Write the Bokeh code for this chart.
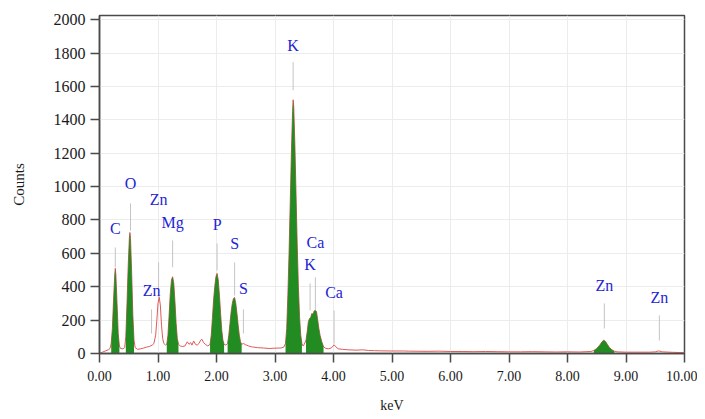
from bokeh.plotting import figure
from bokeh.models import Range1d, FixedTicker, NumeralTickFormatter, ColumnDataSource
from bokeh.core.properties import value
from bokeh.embed import file_html
from bokeh.resources import INLINE

# ---- spectrum (keV, counts) ----
energy = [0.00, 0.05, 0.10, 0.15, 0.18, 0.20, 0.22, 0.24, 0.26, 0.27, 0.28, 0.30, 0.32, 0.34, 0.36,
          0.40, 0.43, 0.45, 0.47, 0.49, 0.51, 0.52, 0.53, 0.55, 0.57, 0.59, 0.61, 0.65, 0.70, 0.75,
          0.80, 0.85, 0.90, 0.93, 0.96, 0.98, 1.00, 1.02, 1.04, 1.06, 1.08, 1.10, 1.13, 1.15, 1.17,
          1.19, 1.21, 1.23, 1.25, 1.27, 1.29, 1.31, 1.33, 1.35, 1.38, 1.42, 1.46, 1.50, 1.53, 1.56,
          1.58, 1.61, 1.64, 1.67, 1.70, 1.73, 1.75, 1.78, 1.81, 1.85, 1.89, 1.91, 1.93, 1.95, 1.97,
          1.99, 2.01, 2.03, 2.05, 2.07, 2.09, 2.11, 2.13, 2.16, 2.19, 2.21, 2.23, 2.25, 2.27, 2.29,
          2.31, 2.33, 2.35, 2.37, 2.39, 2.41, 2.43, 2.46, 2.50, 2.55, 2.60, 2.70, 2.80, 2.90, 3.00,
          3.10, 3.15, 3.18, 3.20, 3.22, 3.24, 3.26, 3.28, 3.30, 3.31, 3.32, 3.34, 3.36, 3.38, 3.40,
          3.42, 3.44, 3.46, 3.48, 3.50, 3.53, 3.55, 3.57, 3.59, 3.61, 3.63, 3.65, 3.67, 3.69, 3.71,
          3.73, 3.75, 3.77, 3.80, 3.83, 3.87, 3.92, 3.97, 4.01, 4.04, 4.08, 4.15, 4.25, 4.40, 4.50,
          4.60, 4.70, 4.80, 5.00, 5.20, 5.30, 5.60, 5.80, 6.00, 6.20, 6.40, 6.60, 6.80, 7.00, 7.20,
          7.40, 7.60, 7.80, 8.00, 8.20, 8.40, 8.45, 8.50, 8.55, 8.59, 8.62, 8.65, 8.68, 8.72, 8.76,
          8.80, 8.85, 9.00, 9.20, 9.40, 9.50, 9.55, 9.58, 9.62, 9.80, 10.00]
counts = [0, 8, 15, 22, 30, 60, 150, 320, 470, 510, 470, 300, 120, 45, 30,
          28, 35, 100, 300, 520, 690, 725, 690, 480, 230, 80, 35, 25, 28, 32,
          38, 42, 50, 60, 110, 200, 300, 340, 290, 170, 90, 60, 50, 55, 110,
          230, 360, 440, 460, 420, 310, 180, 90, 55, 45, 42, 45, 70, 55, 65,
          50, 75, 55, 50, 60, 80, 85, 65, 55, 45, 55, 110, 210, 320, 400,
          460, 480, 440, 350, 240, 140, 80, 55, 50, 60, 110, 180, 250, 300, 330,
          335, 300, 240, 170, 110, 70, 55, 60, 52, 45, 40, 35, 33, 30, 32,
          33, 38, 60, 150, 350, 600, 900, 1200, 1450, 1520, 1480, 1250, 950, 650, 400,
          220, 110, 60, 45, 55, 80, 130, 190, 210, 215, 240, 235, 255, 260, 250,
          200, 150, 110, 70, 40, 30, 28, 35, 52, 40, 28, 25, 22, 20, 22,
          18, 17, 16, 15, 15, 14, 13, 14, 12, 12, 11, 12, 11, 10, 10,
          11, 10, 9, 10, 9, 12, 18, 30, 50, 70, 80, 72, 55, 35, 22,
          14, 10, 8, 8, 8, 10, 15, 14, 10, 7, 5]

# energy windows that are filled as identified peaks
peak_start = [0.19, 0.44, 1.15, 1.89, 2.19, 3.17, 3.53, 8.44]
peak_end = [0.35, 0.60, 1.36, 2.14, 2.43, 3.47, 3.85, 8.82]

# element labels
label_text = ["C", "O", "Zn", "Zn", "Mg", "P", "S", "S", "K", "Ca", "K", "Ca", "Zn", "Zn"]
label_energy = [0.27, 0.53, 1.01, 0.89, 1.25, 2.01, 2.31, 2.46, 3.31, 3.69, 3.60, 4.01, 8.63, 9.57]
label_counts = [749, 1019, 923, 378, 785, 773, 659, 390, 1847, 665, 534, 366, 408, 336]
marker_top = [635, 899, 546, 264, 677, 659, 546, 264, 1745, 456, 420, 258, 300, 228]
marker_bottom = [516, 737, 330, 120, 516, 498, 348, 120, 1577, 258, 258, 60, 150, 78]

x_ticks = [0, 1, 2, 3, 4, 5, 6, 7, 8, 9, 10]
y_ticks = [0, 200, 400, 600, 800, 1000, 1200, 1400, 1600, 1800, 2000]

SERIF = "Liberation Serif"

p = figure(width=697, height=415, x_range=Range1d(0, 10), y_range=Range1d(0, 2025),
           output_backend="svg", toolbar_location=None,
           min_border_left=99, min_border_right=13, min_border_top=15, min_border_bottom=62)
p.background_fill_color = "white"
p.border_fill_color = "white"
p.outline_line_color = "#4a4a4a"
p.outline_line_width = 1.5

# grid
p.xgrid.ticker = FixedTicker(ticks=x_ticks)
p.ygrid.ticker = FixedTicker(ticks=y_ticks)
p.grid.grid_line_color = "#ececec"
p.grid.grid_line_width = 1

# axes
p.xaxis.ticker = FixedTicker(ticks=x_ticks)
p.yaxis.ticker = FixedTicker(ticks=y_ticks)
p.xaxis.formatter = NumeralTickFormatter(format="0.00")
for ax in (p.xaxis[0], p.yaxis[0]):
    ax.axis_line_color = "#4a4a4a"
    ax.axis_line_width = 1.5
    ax.major_tick_line_color = "#4a4a4a"
    ax.major_tick_line_width = 1.5
    ax.major_tick_out = 9
    ax.major_tick_in = 0
    ax.minor_tick_line_color = None
    ax.major_label_text_font = SERIF
    ax.major_label_text_color = "#1a1a1a"
    ax.axis_label_text_font = SERIF
    ax.axis_label_text_font_style = "normal"
    ax.axis_label_text_color = "#1a1a1a"
p.yaxis.major_label_text_font_size = "16px"
p.xaxis.major_label_text_font_size = "14px"
p.yaxis.major_label_standoff = 5
p.xaxis.major_label_standoff = 8
p.yaxis.axis_label = "Counts"
p.xaxis.axis_label = "keV"
p.yaxis.axis_label_text_font_size = "15px"
p.xaxis.axis_label_text_font_size = "14px"
p.yaxis.axis_label_standoff = 24
p.xaxis.axis_label_standoff = 14

# spectrum line
p.line(energy, counts, line_color="#e05a5a", line_width=1)

# filled peaks
for s, e in zip(peak_start, peak_end):
    xs = [x for x in energy if s <= x <= e]
    ys = [c for x, c in zip(energy, counts) if s <= x <= e]
    p.varea(x=xs, y1=[0] * len(xs), y2=ys, fill_color="#228b22", fill_alpha=1.0)

# marker lines
p.segment(x0=label_energy, y0=marker_bottom, x1=label_energy, y1=marker_top,
          line_color="#c4c4c4", line_width=1)

# labels
lsrc = ColumnDataSource(dict(x=label_energy, y=label_counts, t=label_text))
p.text(x="x", y="y", text="t", source=lsrc, text_font=value(SERIF), text_font_size="16px",
       text_color="#2525d5", text_align="center", text_baseline="middle")

open("out.html", "w").write(file_html(p, INLINE))
